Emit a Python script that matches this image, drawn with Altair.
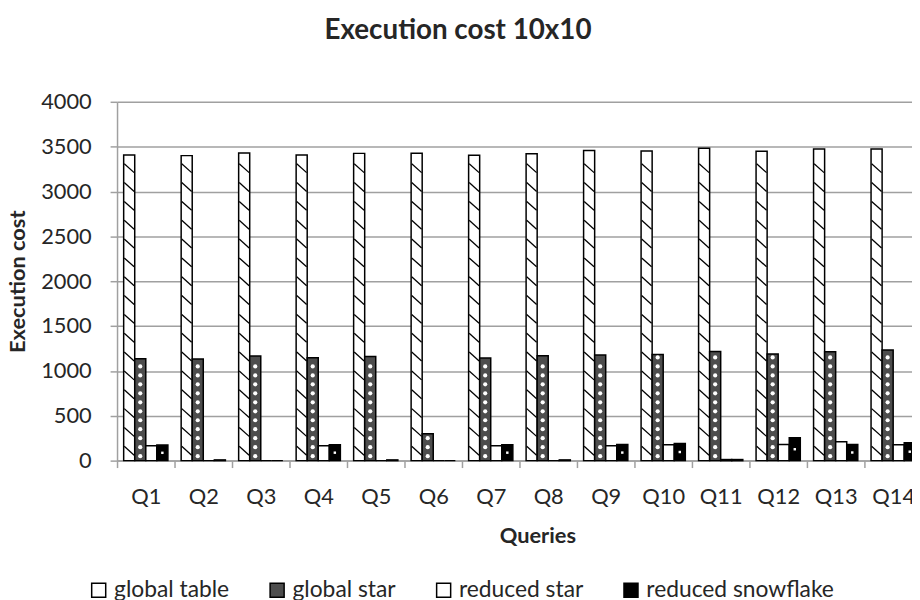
import altair as alt
import pandas as pd
import numpy as np

queries = [f"Q{i}" for i in range(1, 15)]
series = ["global table", "global star", "reduced star", "reduced snowflake"]
global_table = [3407, 3400, 3429, 3407, 3425, 3426, 3404, 3422, 3456, 3451, 3481, 3448, 3473, 3473]
global_star = [1136, 1132, 1166, 1147, 1162, 299, 1144, 1169, 1177, 1184, 1217, 1188, 1213, 1232]
reduced_star = [166, 0, 0, 166, 0, 0, 166, 0, 166, 177, 12, 181, 210, 177]
reduced_snowflake = [174, 8, 0, 177, 8, 0, 177, 8, 179, 192, 12, 254, 181, 199]
y_ticks = [0, 500, 1000, 1500, 2000, 2500, 3000, 3500, 4000]

rows = []
for s, vals in zip(series, [global_table, global_star, reduced_star, reduced_snowflake]):
    for q, v in zip(queries, vals):
        rows.append({"query": q, "series": s, "value": v})
df = pd.DataFrame(rows)

# pattern helpers derived from the data values
hatch = pd.DataFrame([
    {"query": q, "series": "global table", "value": y}
    for q, v in zip(queries, global_table) for y in np.arange(110, v - 60, 210)
])
dots = pd.DataFrame([
    {"query": q, "series": "global star", "value": y}
    for q, v in zip(queries, global_star) for y in np.arange(50, v - 30, 100)
])
snow = pd.DataFrame([
    {"query": q, "series": "reduced snowflake", "value": v * 0.5}
    for q, v in zip(queries, reduced_snowflake) if v > 50
])

FONT = "Lato"
GRID = "#a0a0a0"
TXT = "#262626"

xscale = alt.Scale(domain=queries, range=[0, 812], paddingInner=0, paddingOuter=0)
xoscale = alt.Scale(domain=series, paddingInner=0, paddingOuter=0.6)
yscale = alt.Scale(domain=[0, 4000], nice=False)

x_enc = alt.X("query:N", sort=queries, scale=xscale,
              axis=alt.Axis(title="Queries", labelAngle=0, tickSize=7, tickWidth=1.5,
                            tickColor=GRID, domainColor=GRID, domainWidth=1.5,
                            tickOffset=-29, labelOffset=29, grid=False,
                            labelFont=FONT, labelFontSize=22, labelColor=TXT,
                            labelPadding=19, titleFont=FONT, titleFontSize=22,
                            titleFontWeight="bold", titleColor=TXT,
                            titlePadding=19, titleX=424))
xo_enc = alt.XOffset("series:N", sort=series, scale=xoscale)
y_enc = alt.Y("value:Q", scale=yscale,
              axis=alt.Axis(values=y_ticks, format="d", grid=True, gridColor=GRID,
                            gridWidth=1.5, domainColor=GRID, domainWidth=1.5,
                            tickColor=GRID, tickSize=7, tickWidth=1.5, labelFont=FONT,
                            labelFontSize=22, labelColor=TXT, labelPadding=19,
                            title="Execution cost", titleFont=FONT, titleFontSize=22,
                            titleFontWeight="bold", titleColor=TXT, titlePadding=11))

bars = alt.Chart(df).mark_bar(stroke="black", strokeWidth=1.5).encode(
    x=x_enc, xOffset=xo_enc, y=y_enc,
    color=alt.Color("series:N", sort=series,
                    scale=alt.Scale(domain=series, range=["white", "#4d4d4d", "white", "black"]),
                    legend=alt.Legend(orient="none", legendX=-30, legendY=481,
                                      direction="horizontal", title=None,
                                      symbolType="square", symbolSize=200,
                                      symbolStrokeColor="black", symbolStrokeWidth=1.5,
                                      symbolOpacity=1, labelLimit=0,
                                      labelFont=FONT, labelFontSize=23, labelColor=TXT,
                                      labelOffset=4, columnPadding=36)),
)

hatch_layer = alt.Chart(hatch).mark_point(
    shape="M-1,-0.9L1,0.9", filled=False, stroke="black", strokeWidth=1.3, size=100, opacity=1
).encode(x=x_enc, xOffset=xo_enc, y=y_enc)

dot_layer = alt.Chart(dots).mark_point(
    shape="circle", filled=True, color="white", size=18, opacity=1
).encode(x=x_enc, xOffset=xo_enc, y=y_enc)

snow_layer = alt.Chart(snow).mark_point(
    shape="square", filled=True, color="white", size=6, opacity=1
).encode(x=x_enc, xOffset=xo_enc, y=y_enc)

chart = alt.layer(bars, hatch_layer, dot_layer, snow_layer).properties(
    width=802, height=362,
    autosize=alt.AutoSizeParams(type="none"),
    padding={"left": 110, "top": 92, "right": 0, "bottom": 140},
    title=alt.TitleParams("Execution cost 10x10", font=FONT, fontSize=28,
                          fontWeight="bold", color=TXT, anchor="middle",
                          frame="group", dx=-57, offset=46),
).configure_view(stroke=None)

chart.save("out.html", embed_options={"renderer": "svg", "actions": False})
